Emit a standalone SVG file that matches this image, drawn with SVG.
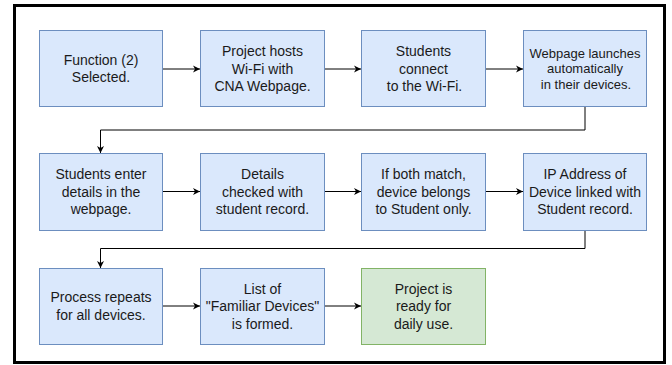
<svg xmlns="http://www.w3.org/2000/svg" width="672" height="365" viewBox="0 0 672 365">
<defs>
<style>
.b{fill:#dae8fc;stroke:#6c8ebf;stroke-width:1}
.g{fill:#d5e8d4;stroke:#82b366;stroke-width:1}
text{font-family:"Liberation Sans",Arial,sans-serif;font-size:14px;fill:#1a1a1a;text-anchor:middle}
.s{font-size:13px}
.c{fill:none;stroke:#000;stroke-width:1}
</style>
<marker id="a" markerWidth="8" markerHeight="8" refX="7" refY="4" orient="auto" markerUnits="userSpaceOnUse">
<path d="M0,0.5 L7,4 L0,7.5 L2,4 Z" fill="#000"/>
</marker>
</defs>
<rect x="0" y="0" width="672" height="365" fill="#fff"/>
<rect x="14.5" y="5.5" width="650" height="357" fill="none" stroke="#000" stroke-width="3"/>
<g id="connectors">
<path class="c" d="M162,69 H200" marker-end="url(#a)"/>
<path class="c" d="M324,69 H361" marker-end="url(#a)"/>
<path class="c" d="M486,69 H523" marker-end="url(#a)"/>
<path class="c" d="M585,107 V130 H100.5 V153" marker-end="url(#a)"/>
<path class="c" d="M162,191.5 H200" marker-end="url(#a)"/>
<path class="c" d="M324,191.5 H361" marker-end="url(#a)"/>
<path class="c" d="M486,191.5 H523" marker-end="url(#a)"/>
<path class="c" d="M585,230 V248.5 H100.5 V268" marker-end="url(#a)"/>
<path class="c" d="M162,306 H200" marker-end="url(#a)"/>
<path class="c" d="M324,306 H361" marker-end="url(#a)"/>
</g>
<g id="n1"><rect class="b" x="39.5" y="30.5" width="123" height="76"/>
<text x="101" y="64.5">Function (2)</text><text x="101" y="82">Selected.</text></g>
<g id="n2"><rect class="b" x="200.5" y="30.5" width="124" height="76"/>
<text x="262.5" y="56">Project hosts</text><text x="262.5" y="73.5">Wi-Fi with</text><text x="262.5" y="91">CNA Webpage.</text></g>
<g id="n3"><rect class="b" x="361.5" y="30.5" width="124" height="76"/>
<text x="423.5" y="56">Students</text><text x="423.5" y="73.5">connect</text><text x="424.5" y="91">to the Wi-Fi.</text></g>
<g id="n4"><rect class="b" x="523.5" y="30.5" width="123" height="76"/>
<text class="s" x="585" y="57.5">Webpage launches</text><text class="s" x="585" y="73">automatically</text><text class="s" x="586" y="88.5">in their devices.</text></g>
<g id="n5"><rect class="b" x="39.5" y="153.5" width="123" height="77"/>
<text x="101" y="179">Students enter</text><text x="101" y="196.5">details in the</text><text x="101" y="214">webpage.</text></g>
<g id="n6"><rect class="b" x="200.5" y="153.5" width="124" height="77"/>
<text x="262.5" y="179">Details</text><text x="262.5" y="196.5">checked with</text><text x="262.5" y="214">student record.</text></g>
<g id="n7"><rect class="b" x="361.5" y="153.5" width="124" height="77"/>
<text x="423.5" y="179">If both match,</text><text x="423.5" y="196.5">device belongs</text><text x="423.5" y="214">to Student only.</text></g>
<g id="n8"><rect class="b" x="523.5" y="153.5" width="123" height="77"/>
<text x="585" y="179">IP Address of</text><text x="585" y="196.5">Device linked with</text><text x="585" y="214">Student record.</text></g>
<g id="n9"><rect class="b" x="39.5" y="268.5" width="123" height="76"/>
<text x="101" y="302">Process repeats</text><text x="101" y="319.5">for all devices.</text></g>
<g id="n10"><rect class="b" x="200.5" y="268.5" width="124" height="76"/>
<text x="262.5" y="293.5">List of</text><text x="262.5" y="311">"Familiar Devices"</text><text x="262.5" y="328.5">is formed.</text></g>
<g id="n11"><rect class="g" x="361.5" y="268.5" width="124" height="76"/>
<text x="423.5" y="293.5">Project is</text><text x="423.5" y="311">ready for</text><text x="423.5" y="328.5">daily use.</text></g>
</svg>
